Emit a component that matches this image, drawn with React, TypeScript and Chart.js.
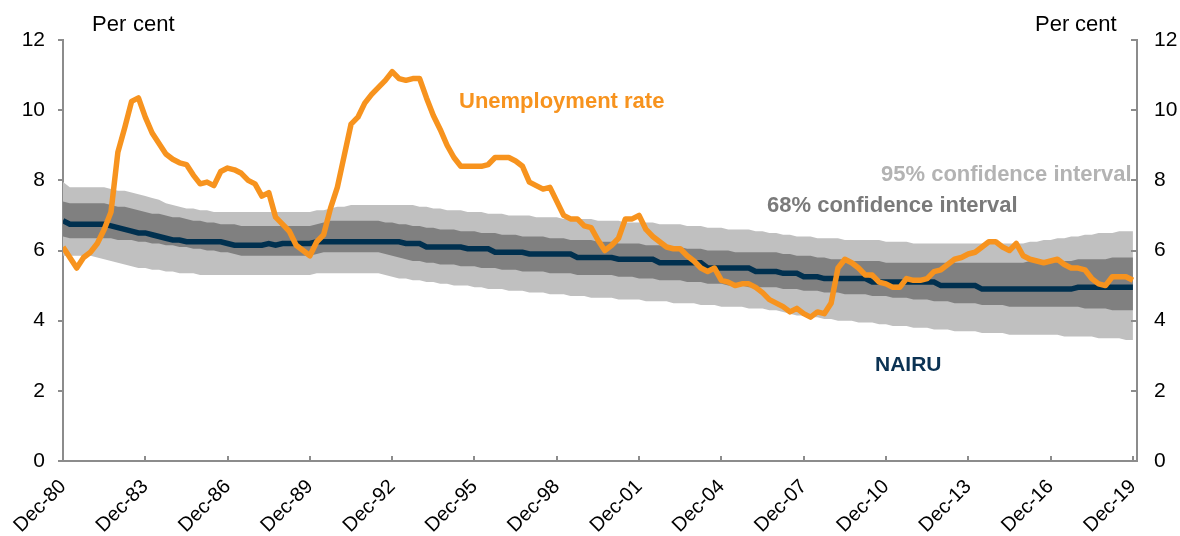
import { useEffect, useRef } from 'react';
import { Chart, registerables } from 'chart.js';

Chart.register(...registerables);

// Quarterly data, Dec-80 (index 0) to Dec-19 (index 156)
const xTickLabels = [
  'Dec-80', 'Dec-83', 'Dec-86', 'Dec-89', 'Dec-92', 'Dec-95', 'Dec-98',
  'Dec-01', 'Dec-04', 'Dec-07', 'Dec-10', 'Dec-13', 'Dec-16', 'Dec-19',
];

const yTicks = [0, 2, 4, 6, 8, 10, 12];

const unemploymentRate = [
  6.1, 5.8, 5.5, 5.8, 5.95, 6.2, 6.6, 7.1, 8.8, 9.5, 10.25, 10.35,
  9.8, 9.35, 9.05, 8.75, 8.6, 8.5, 8.45, 8.15, 7.9, 7.95, 7.85, 8.25,
  8.35, 8.3, 8.2, 8.0, 7.9, 7.55, 7.65, 6.95, 6.75, 6.55, 6.15, 6.0,
  5.85, 6.25, 6.45, 7.2, 7.8, 8.7, 9.6, 9.8, 10.2, 10.45, 10.65, 10.85,
  11.1, 10.9, 10.85, 10.9, 10.9, 10.35, 9.85, 9.45, 9.0, 8.65, 8.4, 8.4,
  8.4, 8.4, 8.45, 8.65, 8.65, 8.65, 8.55, 8.4, 7.95, 7.85, 7.75, 7.8,
  7.4, 7.0, 6.9, 6.9, 6.7, 6.65, 6.3, 6.0, 6.15, 6.35, 6.9, 6.9,
  7.0, 6.6, 6.4, 6.25, 6.1, 6.05, 6.05, 5.85, 5.7, 5.5, 5.4, 5.5,
  5.15, 5.1, 5.0, 5.05, 5.05, 4.95, 4.8, 4.6, 4.5, 4.4, 4.25, 4.35,
  4.2, 4.1, 4.25, 4.2, 4.5, 5.5, 5.75, 5.65, 5.5, 5.3, 5.3, 5.1,
  5.05, 4.95, 4.95, 5.2, 5.15, 5.15, 5.2, 5.4, 5.45, 5.6, 5.75, 5.8,
  5.9, 5.95, 6.1, 6.25, 6.25, 6.1, 6.0, 6.2, 5.85, 5.75, 5.7, 5.65,
  5.7, 5.75, 5.6, 5.5, 5.5, 5.45, 5.2, 5.05, 5.0, 5.25, 5.25, 5.25,
  5.15,
];

const nairu = [
  6.85, 6.75, 6.75, 6.75, 6.75, 6.75, 6.75, 6.7, 6.65, 6.6, 6.55, 6.5,
  6.5, 6.45, 6.4, 6.35, 6.3, 6.3, 6.25, 6.25, 6.25, 6.25, 6.25, 6.25,
  6.2, 6.15, 6.15, 6.15, 6.15, 6.15, 6.2, 6.15, 6.2, 6.2, 6.2, 6.2,
  6.2, 6.25, 6.25, 6.25, 6.25, 6.25, 6.25, 6.25, 6.25, 6.25, 6.25, 6.25,
  6.25, 6.25, 6.2, 6.2, 6.2, 6.1, 6.1, 6.1, 6.1, 6.1, 6.1, 6.05,
  6.05, 6.05, 6.05, 5.95, 5.95, 5.95, 5.95, 5.95, 5.9, 5.9, 5.9, 5.9,
  5.9, 5.9, 5.9, 5.8, 5.8, 5.8, 5.8, 5.8, 5.8, 5.75, 5.75, 5.75,
  5.75, 5.75, 5.75, 5.65, 5.65, 5.65, 5.65, 5.65, 5.65, 5.65, 5.5, 5.5,
  5.5, 5.5, 5.5, 5.5, 5.5, 5.4, 5.4, 5.4, 5.4, 5.35, 5.35, 5.35,
  5.25, 5.25, 5.25, 5.2, 5.2, 5.2, 5.2, 5.2, 5.2, 5.2, 5.1, 5.1,
  5.1, 5.1, 5.1, 5.1, 5.1, 5.1, 5.1, 5.1, 5.0, 5.0, 5.0, 5.0,
  5.0, 5.0, 4.9, 4.9, 4.9, 4.9, 4.9, 4.9, 4.9, 4.9, 4.9, 4.9,
  4.9, 4.9, 4.9, 4.9, 4.95, 4.95, 4.95, 4.95, 4.95, 4.95, 4.95, 4.95,
  4.95,
];

const upper68 = [
  7.4, 7.35, 7.35, 7.35, 7.35, 7.35, 7.35, 7.3, 7.25, 7.25, 7.2, 7.15,
  7.1, 7.05, 7.05, 7.0, 6.95, 6.95, 6.9, 6.85, 6.85, 6.8, 6.8, 6.75,
  6.75, 6.75, 6.7, 6.7, 6.7, 6.7, 6.7, 6.7, 6.7, 6.7, 6.7, 6.7,
  6.7, 6.75, 6.8, 6.85, 6.85, 6.85, 6.85, 6.85, 6.85, 6.85, 6.85, 6.8,
  6.8, 6.75, 6.75, 6.7, 6.7, 6.65, 6.65, 6.6, 6.6, 6.6, 6.55, 6.55,
  6.55, 6.5, 6.5, 6.5, 6.45, 6.45, 6.45, 6.4, 6.4, 6.4, 6.4, 6.35,
  6.35, 6.35, 6.3, 6.3, 6.3, 6.3, 6.25, 6.25, 6.25, 6.2, 6.2, 6.2,
  6.2, 6.15, 6.15, 6.15, 6.1, 6.1, 6.1, 6.05, 6.05, 6.05, 6.0, 6.0,
  6.0, 6.0, 5.95, 5.95, 5.95, 5.95, 5.95, 5.95, 5.95, 5.9, 5.9, 5.85,
  5.85, 5.85, 5.8, 5.8, 5.75, 5.75, 5.75, 5.7, 5.7, 5.7, 5.7, 5.7,
  5.65, 5.65, 5.65, 5.65, 5.65, 5.65, 5.65, 5.65, 5.65, 5.65, 5.65, 5.65,
  5.65, 5.65, 5.65, 5.65, 5.65, 5.65, 5.65, 5.65, 5.65, 5.7, 5.7, 5.7,
  5.7, 5.7, 5.7, 5.7, 5.75, 5.75, 5.75, 5.75, 5.75, 5.8, 5.8, 5.8,
  5.8,
];

const lower68 = [
  6.4, 6.35, 6.35, 6.35, 6.35, 6.35, 6.35, 6.35, 6.3, 6.3, 6.3, 6.25,
  6.25, 6.2, 6.2, 6.15, 6.15, 6.1, 6.1, 6.05, 6.05, 6.0, 6.0, 5.95,
  5.95, 5.9, 5.85, 5.85, 5.85, 5.85, 5.85, 5.85, 5.85, 5.85, 5.85, 5.85,
  5.85, 5.9, 5.95, 5.95, 5.95, 5.95, 5.95, 5.95, 5.95, 5.95, 5.95, 5.9,
  5.85, 5.8, 5.75, 5.7, 5.7, 5.65, 5.65, 5.6, 5.6, 5.6, 5.55, 5.55,
  5.55, 5.5, 5.5, 5.5, 5.45, 5.45, 5.45, 5.4, 5.4, 5.4, 5.4, 5.35,
  5.35, 5.35, 5.35, 5.3, 5.3, 5.3, 5.3, 5.3, 5.3, 5.25, 5.25, 5.25,
  5.2, 5.2, 5.2, 5.15, 5.15, 5.15, 5.15, 5.1, 5.1, 5.1, 5.05, 5.05,
  5.05, 5.0, 5.0, 5.0, 4.95, 4.95, 4.95, 4.95, 4.95, 4.9, 4.9, 4.9,
  4.85, 4.85, 4.85, 4.8, 4.8, 4.8, 4.75, 4.75, 4.75, 4.75, 4.7, 4.7,
  4.7, 4.65, 4.65, 4.65, 4.6, 4.6, 4.6, 4.55, 4.55, 4.55, 4.5, 4.5,
  4.5, 4.5, 4.45, 4.45, 4.45, 4.45, 4.4, 4.4, 4.4, 4.4, 4.4, 4.4,
  4.4, 4.4, 4.4, 4.4, 4.4, 4.35, 4.35, 4.35, 4.35, 4.3, 4.3, 4.3,
  4.3,
];

const upper95 = [
  7.95, 7.8, 7.8, 7.8, 7.8, 7.8, 7.8, 7.75, 7.7, 7.7, 7.65, 7.6,
  7.55, 7.5, 7.45, 7.35, 7.3, 7.25, 7.2, 7.2, 7.15, 7.15, 7.1, 7.1,
  7.1, 7.1, 7.1, 7.1, 7.1, 7.1, 7.1, 7.1, 7.1, 7.1, 7.1, 7.1,
  7.1, 7.15, 7.15, 7.2, 7.25, 7.25, 7.3, 7.3, 7.3, 7.3, 7.3, 7.3,
  7.3, 7.3, 7.3, 7.3, 7.25, 7.25, 7.2, 7.2, 7.15, 7.15, 7.15, 7.1,
  7.1, 7.1, 7.05, 7.05, 7.05, 7.0, 7.0, 7.0, 7.0, 6.95, 6.95, 6.95,
  6.95, 6.9, 6.9, 6.9, 6.9, 6.9, 6.85, 6.85, 6.85, 6.85, 6.8, 6.8,
  6.8, 6.8, 6.8, 6.75, 6.75, 6.75, 6.75, 6.7, 6.7, 6.7, 6.65, 6.65,
  6.65, 6.6, 6.6, 6.6, 6.6, 6.55, 6.55, 6.5, 6.5, 6.45, 6.45, 6.4,
  6.4, 6.4, 6.35, 6.35, 6.35, 6.35, 6.3, 6.3, 6.3, 6.3, 6.3, 6.3,
  6.25, 6.25, 6.25, 6.25, 6.2, 6.2, 6.2, 6.2, 6.2, 6.2, 6.2, 6.2,
  6.2, 6.2, 6.2, 6.2, 6.2, 6.2, 6.2, 6.2, 6.2, 6.25, 6.25, 6.3,
  6.3, 6.35, 6.35, 6.4, 6.4, 6.45, 6.45, 6.5, 6.5, 6.5, 6.55, 6.55,
  6.55,
];

const lower95 = [
  5.85, 5.85, 5.85, 5.85, 5.85, 5.8, 5.75, 5.7, 5.65, 5.6, 5.55, 5.5,
  5.5, 5.45, 5.45, 5.4, 5.4, 5.35, 5.35, 5.35, 5.3, 5.3, 5.3, 5.3,
  5.3, 5.3, 5.3, 5.3, 5.3, 5.3, 5.3, 5.3, 5.3, 5.3, 5.3, 5.3,
  5.3, 5.35, 5.35, 5.35, 5.35, 5.35, 5.35, 5.35, 5.35, 5.35, 5.35, 5.3,
  5.25, 5.2, 5.2, 5.15, 5.15, 5.1, 5.1, 5.05, 5.05, 5.0, 5.0, 5.0,
  4.95, 4.95, 4.9, 4.9, 4.9, 4.85, 4.85, 4.85, 4.8, 4.8, 4.8, 4.75,
  4.75, 4.75, 4.7, 4.7, 4.7, 4.65, 4.65, 4.65, 4.65, 4.6, 4.6, 4.6,
  4.6, 4.55, 4.55, 4.55, 4.55, 4.5, 4.5, 4.5, 4.5, 4.45, 4.45, 4.45,
  4.4, 4.4, 4.4, 4.4, 4.35, 4.35, 4.35, 4.3, 4.3, 4.25, 4.2, 4.15,
  4.15, 4.1, 4.1, 4.05, 4.05, 4.0, 4.0, 4.0, 3.95, 3.95, 3.95, 3.9,
  3.9, 3.85, 3.85, 3.85, 3.8, 3.8, 3.8, 3.75, 3.75, 3.75, 3.7, 3.7,
  3.7, 3.7, 3.65, 3.65, 3.65, 3.65, 3.6, 3.6, 3.6, 3.6, 3.6, 3.6,
  3.6, 3.6, 3.55, 3.55, 3.55, 3.55, 3.55, 3.5, 3.5, 3.5, 3.5, 3.45,
  3.45,
];

const ORANGE = '#F7931E';
const NAVY = '#00304F';
const DARK_BAND = '#808080';
const LIGHT_BAND = '#C0C0C0';
const AXIS = '#8C8C8C';
const FONT = "'Liberation Sans', Arial, sans-serif";

export default function App() {
  const ref = useRef<HTMLCanvasElement>(null);

  useEffect(() => {
    if (!ref.current) return;
    const toPts = (arr: number[]) => arr.map((y, x) => ({ x, y }));

    const decorations = {
      id: 'decorations',
      afterDraw(chart: any) {
        const { ctx, chartArea } = chart;
        const xs = chart.scales.x;
        const yr = chart.scales.y1;
        ctx.save();
        ctx.strokeStyle = AXIS;
        ctx.lineWidth = 2;
        // x-axis tick marks pointing inward
        xs.ticks.forEach((t: any) => {
          const px = Math.round(xs.getPixelForValue(t.value));
          ctx.beginPath();
          ctx.moveTo(px, chartArea.bottom);
          ctx.lineTo(px, chartArea.bottom - 5);
          ctx.stroke();
        });
        // right-axis tick marks pointing inward
        yr.ticks.forEach((t: any) => {
          const py = Math.round(yr.getPixelForValue(t.value));
          ctx.beginPath();
          ctx.moveTo(chartArea.right, py);
          ctx.lineTo(chartArea.right - 6, py);
          ctx.stroke();
        });

        ctx.textBaseline = 'middle';
        ctx.textAlign = 'left';
        ctx.fillStyle = '#000';
        ctx.font = `22px ${FONT}`;
        ctx.fillText('Per', 92, 25);
        ctx.fillText('cent', 133, 25);
        ctx.fillText('Per', 1035, 25);
        ctx.fillText('cent', 1075, 25);

        ctx.font = `bold 22px ${FONT}`;
        ctx.fillStyle = ORANGE;
        ctx.fillText('Unemployment rate', 459, 102);
        ctx.fillStyle = '#B3B3B3';
        ctx.fillText('95% confidence interval', 881, 175);
        ctx.fillStyle = '#7A7A7A';
        ctx.fillText('68% confidence interval', 767, 206);
        ctx.font = `bold 21px ${FONT}`;
        ctx.fillStyle = '#0B3253';
        ctx.fillText('NAIRU', 875, 365);
        ctx.restore();
      },
    };

    const band = (data: number[], color: string, fill: any) => ({
      data: toPts(data),
      borderWidth: 0,
      borderColor: 'rgba(0,0,0,0)',
      backgroundColor: color,
      pointRadius: 0,
      fill,
      tension: 0,
    });

    const chart = new Chart(ref.current, {
      type: 'line',
      data: {
        datasets: [
          {
            label: 'Unemployment rate',
            data: toPts(unemploymentRate),
            borderColor: ORANGE,
            borderWidth: 5.5,
            pointRadius: 0,
            fill: false,
            tension: 0,
            borderJoinStyle: 'round',
          },
          {
            label: 'NAIRU',
            data: toPts(nairu),
            borderColor: NAVY,
            borderWidth: 5.5,
            pointRadius: 0,
            fill: false,
            tension: 0,
          },
          { label: '68% upper', ...band(upper68, DARK_BAND, 3) },
          { label: '68% lower', ...band(lower68, DARK_BAND, false) },
          { label: '95% upper', ...band(upper95, LIGHT_BAND, 5) },
          { label: '95% lower', ...band(lower95, LIGHT_BAND, false) },
        ] as any,
      },
      options: {
        animation: false,
        responsive: false,
        maintainAspectRatio: false,
        layout: { padding: { top: 40, left: 0, right: 0, bottom: 0 } },
        plugins: { legend: { display: false }, tooltip: { enabled: false } },
        scales: {
          x: {
            type: 'linear',
            min: 0,
            max: 156.6,
            afterBuildTicks: (s: any) => {
              s.ticks = xTickLabels.map((_, k) => ({ value: k * 12 }));
            },
            ticks: {
              autoSkip: false,
              maxRotation: 45,
              minRotation: 45,
              padding: 14,
              color: '#000',
              font: { family: FONT, size: 20 },
              callback: (v: any) => xTickLabels[Math.round(Number(v) / 12)],
            },
            grid: { drawOnChartArea: false, drawTicks: false },
            border: { color: AXIS, width: 2 },
            afterFit: (s: any) => { s.height = 75; },
          },
          y: {
            position: 'left',
            min: 0,
            max: 12,
            afterBuildTicks: (s: any) => { s.ticks = yTicks.map((value) => ({ value })); },
            ticks: { padding: 13, color: '#000', font: { family: FONT, size: 21 } },
            grid: { drawOnChartArea: false, tickLength: 5, color: AXIS, lineWidth: 2 },
            border: { color: AXIS, width: 2 },
            afterFit: (s: any) => { s.width = 63; },
          },
          y1: {
            position: 'right',
            min: 0,
            max: 12,
            afterBuildTicks: (s: any) => { s.ticks = yTicks.map((value) => ({ value })); },
            ticks: { padding: 17, color: '#000', font: { family: FONT, size: 21 } },
            grid: { drawOnChartArea: false, drawTicks: false },
            border: { color: AXIS, width: 2 },
            afterFit: (s: any) => { s.width = 43; },
          },
        },
      } as any,
      plugins: [decorations],
    });

    return () => chart.destroy();
  }, []);

  return (
    <canvas
      ref={ref}
      width={1180}
      height={536}
      style={{ position: 'fixed', left: 0, top: 0, width: 1180, height: 536 }}
    />
  );
}
